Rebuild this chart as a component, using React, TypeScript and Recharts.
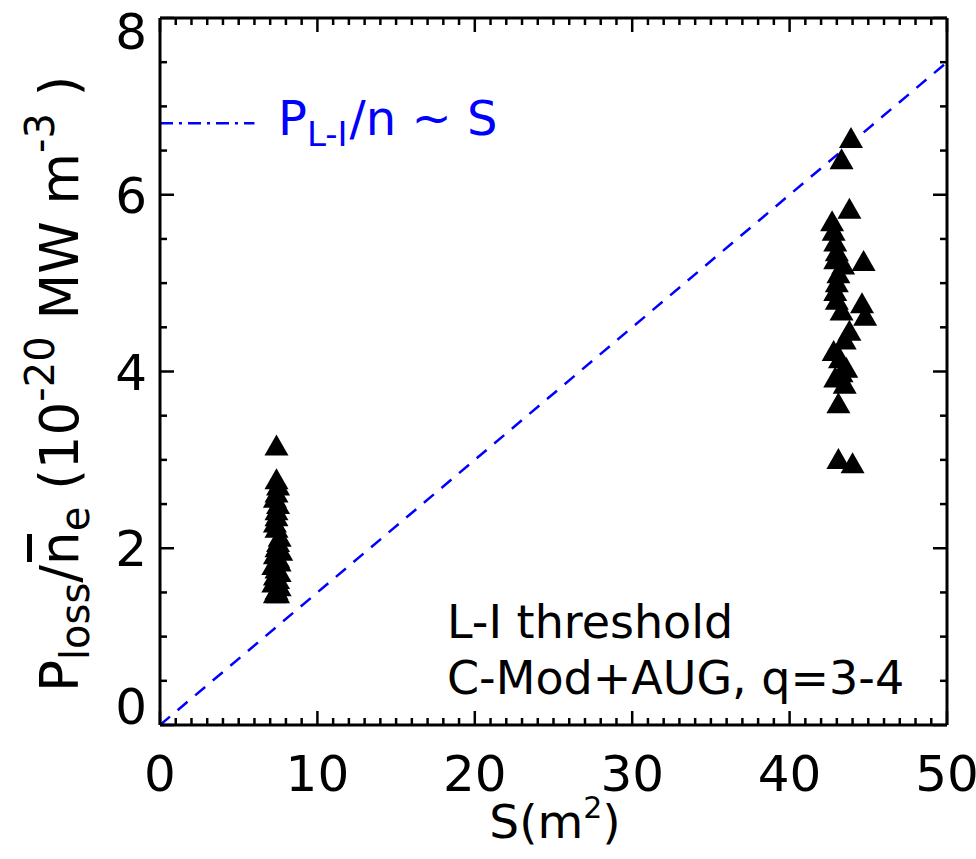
import React from "react";
import {
	ScatterChart,
	Scatter,
	XAxis,
	YAxis,
	ReferenceLine,
	Customized,
} from "recharts";

// C-Mod points (small machine, S ~ 7.5 m^2)
const cmodS = [
	7.4, 7.4, 7.5, 7.4, 7.3, 7.5, 7.4, 7.4, 7.3, 7.4, 7.6, 7.5, 7.4, 7.7, 7.3,
	7.5, 7.6, 7.2, 7.4, 7.6, 7.3, 7.5, 7.2, 7.6, 7.4, 7.3, 7.5,
];
const cmodP = [
	3.15, 2.77, 2.7, 2.62, 2.56, 2.49, 2.42, 2.35, 2.28, 2.22, 2.12, 2.06, 2.0,
	1.96, 1.92, 1.88, 1.84, 1.8, 1.76, 1.72, 1.68, 1.64, 1.6, 1.56, 1.52, 1.48,
	1.48,
];

// AUG points (S ~ 43 m^2)
const augS = [
	43.9, 43.3, 43.8, 42.7, 42.8, 42.9, 43.0, 42.9, 43.4, 44.7, 43.1, 43.0, 42.9,
	43.0, 44.6, 44.8, 43.3, 43.8, 43.5, 42.8, 43.2, 43.6, 42.9, 43.5, 43.3, 43.1,
	43.1, 44.0,
];
const augP = [
	6.63, 6.39, 5.83, 5.69, 5.58, 5.46, 5.35, 5.26, 5.2, 5.24, 5.1, 5.0, 4.9, 4.8,
	4.76, 4.62, 4.68, 4.45, 4.35, 4.22, 4.14, 4.03, 3.92, 3.85, 3.98, 3.63, 3.0,
	2.95,
];

// P_L-I/n ~ S scaling line
const slope = 0.15;
const sMax = 50;
const pMax = 8;
const legendP = 6.81;
const legendS = 6;

const xMajor = [0, 10, 20, 30, 40, 50];
const yMajor = [0, 2, 4, 6, 8];
const xTicks = Array.from({ length: 51 }, (_, i) => i);
const yTicks = Array.from({ length: 17 }, (_, i) => i * 0.5);

const FONT = "DejaVu Sans";
const BLUE = "#0000ff";
// tickSize + tickMargin handed to every axis; the custom ticks step back by it
const GAP = 2;

const points = [
	...cmodS.map((s, i) => ({ s, p: cmodP[i] })),
	...augS.map((s, i) => ({ s, p: augP[i] })),
];

const Triangle = (props: any) => {
	const { cx, cy } = props;
	if (cx == null || cy == null) return null;
	return (
		<polygon
			points={`${cx},${cy - 12} ${cx + 12},${cy + 9} ${cx - 12},${cy + 9}`}
			fill="#000"
		/>
	);
};

const Nothing = () => null;

const BottomTick = (props: any) => {
	const { x, payload } = props;
	const y = props.y - GAP;
	const major = xMajor.includes(payload.value);
	return (
		<g>
			<line x1={x} y1={y} x2={x} y2={y - (major ? 14 : 7)} stroke="#000" strokeWidth={2.5} />
			{major && (
				<text x={x} y={y + 66} textAnchor="middle" fontFamily={FONT} fontSize={50} fill="#000">
					{payload.value}
				</text>
			)}
		</g>
	);
};

const TopTick = (props: any) => {
	const { x, payload } = props;
	const y = props.y + GAP;
	const major = xMajor.includes(payload.value);
	return <line x1={x} y1={y} x2={x} y2={y + (major ? 14 : 7)} stroke="#000" strokeWidth={2.5} />;
};

const LeftTick = (props: any) => {
	const { y, payload } = props;
	const x = props.x + GAP;
	const major = yMajor.includes(payload.value);
	// keep end labels inside the frame height
	const ly = Math.min(Math.max(y, 31), 706);
	return (
		<g>
			<line x1={x} y1={y} x2={x + (major ? 14 : 7)} y2={y} stroke="#000" strokeWidth={2.5} />
			{major && (
				<text x={x - 13} y={ly + 18} textAnchor="end" fontFamily={FONT} fontSize={50} fill="#000">
					{payload.value}
				</text>
			)}
		</g>
	);
};

const RightTick = (props: any) => {
	const { y, payload } = props;
	const x = props.x - GAP;
	const major = yMajor.includes(payload.value);
	return <line x1={x} y1={y} x2={x - (major ? 14 : 7)} y2={y} stroke="#000" strokeWidth={2.5} />;
};

const Annotations = () => (
	<g fontFamily={FONT}>
		{/* legend label for the scaling line */}
		<text x={278} y={135} fill={BLUE} fontSize={48}>
			P
			<tspan fontSize={34} dy={11}>L-I</tspan>
			<tspan dy={-11} dx={2}>/n ~ S</tspan>
		</text>
		<text x={447} y={638} fontSize={46} fill="#000">
			L-I threshold
		</text>
		<text x={447} y={694} fontSize={46} fill="#000">
			C-Mod+AUG, q=3-4
		</text>
		{/* x-axis title */}
		<text x={555} y={838} textAnchor="middle" fontSize={47} fill="#000">
			S(m
			<tspan fontSize={30} dy={-20}>2</tspan>
			<tspan dy={20}>)</tspan>
		</text>
		{/* y-axis title */}
		<g transform="translate(78,692) rotate(-90)">
			<text x={0} y={0} fontSize={53} fill="#000">
				P
				<tspan fontSize={40} dy={11}>loss</tspan>
				<tspan dy={-11}>/n</tspan>
				<tspan fontSize={40} dy={11}>e</tspan>
				<tspan dy={-11}> (10</tspan>
				<tspan fontSize={40} dy={-24}>-20</tspan>
				<tspan dy={24}> MW m</tspan>
				<tspan fontSize={40} dy={-24}>-3</tspan>
				<tspan dy={24}> )</tspan>
			</text>
			<rect x={130} y={-51} width={28} height={5} fill="#000" />
		</g>
	</g>
);

const frameLine = { stroke: "#000", strokeWidth: 3 };

export default function App() {
	return (
		<div style={{ position: "absolute", left: 0, top: 0, background: "#fff" }}>
			<ScatterChart
				width={976}
				height={859}
				margin={{ top: 17, right: 28, bottom: 74, left: 80 }}
			>
				<XAxis
					xAxisId="b"
					type="number"
					dataKey="s"
					domain={[0, sMax]}
					ticks={xTicks}
					interval={0}
					allowDataOverflow
					height={60}
					tickSize={1}
					tickMargin={1}
					tickLine={false}
					axisLine={frameLine}
					tick={BottomTick}
				/>
				<XAxis
					xAxisId="t"
					orientation="top"
					type="number"
					dataKey="s"
					domain={[0, sMax]}
					ticks={xTicks}
					interval={0}
					allowDataOverflow
					height={1}
					tickSize={1}
					tickMargin={1}
					tickLine={false}
					axisLine={frameLine}
					tick={TopTick}
				/>
				<YAxis
					yAxisId="l"
					type="number"
					dataKey="p"
					domain={[0, pMax]}
					ticks={yTicks}
					interval={0}
					allowDataOverflow
					width={80}
					tickSize={1}
					tickMargin={1}
					tickLine={false}
					axisLine={frameLine}
					tick={LeftTick}
				/>
				<YAxis
					yAxisId="r"
					orientation="right"
					type="number"
					dataKey="p"
					domain={[0, pMax]}
					ticks={yTicks}
					interval={0}
					allowDataOverflow
					width={1}
					tickSize={1}
					tickMargin={1}
					tickLine={false}
					axisLine={frameLine}
					tick={RightTick}
				/>
				<ReferenceLine
					xAxisId="b"
					yAxisId="l"
					segment={[
						{ x: 0, y: 0 },
						{ x: sMax, y: sMax * slope },
					]}
					stroke={BLUE}
					strokeWidth={2.5}
					strokeDasharray="13 10"
					ifOverflow="visible"
				/>
				<ReferenceLine
					xAxisId="b"
					yAxisId="l"
					segment={[
						{ x: 0, y: legendP },
						{ x: legendS, y: legendP },
					]}
					stroke={BLUE}
					strokeWidth={2.5}
					strokeDasharray="13 6 3 6"
					ifOverflow="visible"
				/>
				{/* same points on the top/right axes so those scales get built */}
				<Scatter
					xAxisId="t"
					yAxisId="r"
					data={points}
					shape={Nothing}
					legendType="none"
					isAnimationActive={false}
				/>
				<Scatter
					xAxisId="b"
					yAxisId="l"
					data={points}
					shape={Triangle}
					isAnimationActive={false}
				/>
				<Customized component={Annotations} />
			</ScatterChart>
		</div>
	);
}
